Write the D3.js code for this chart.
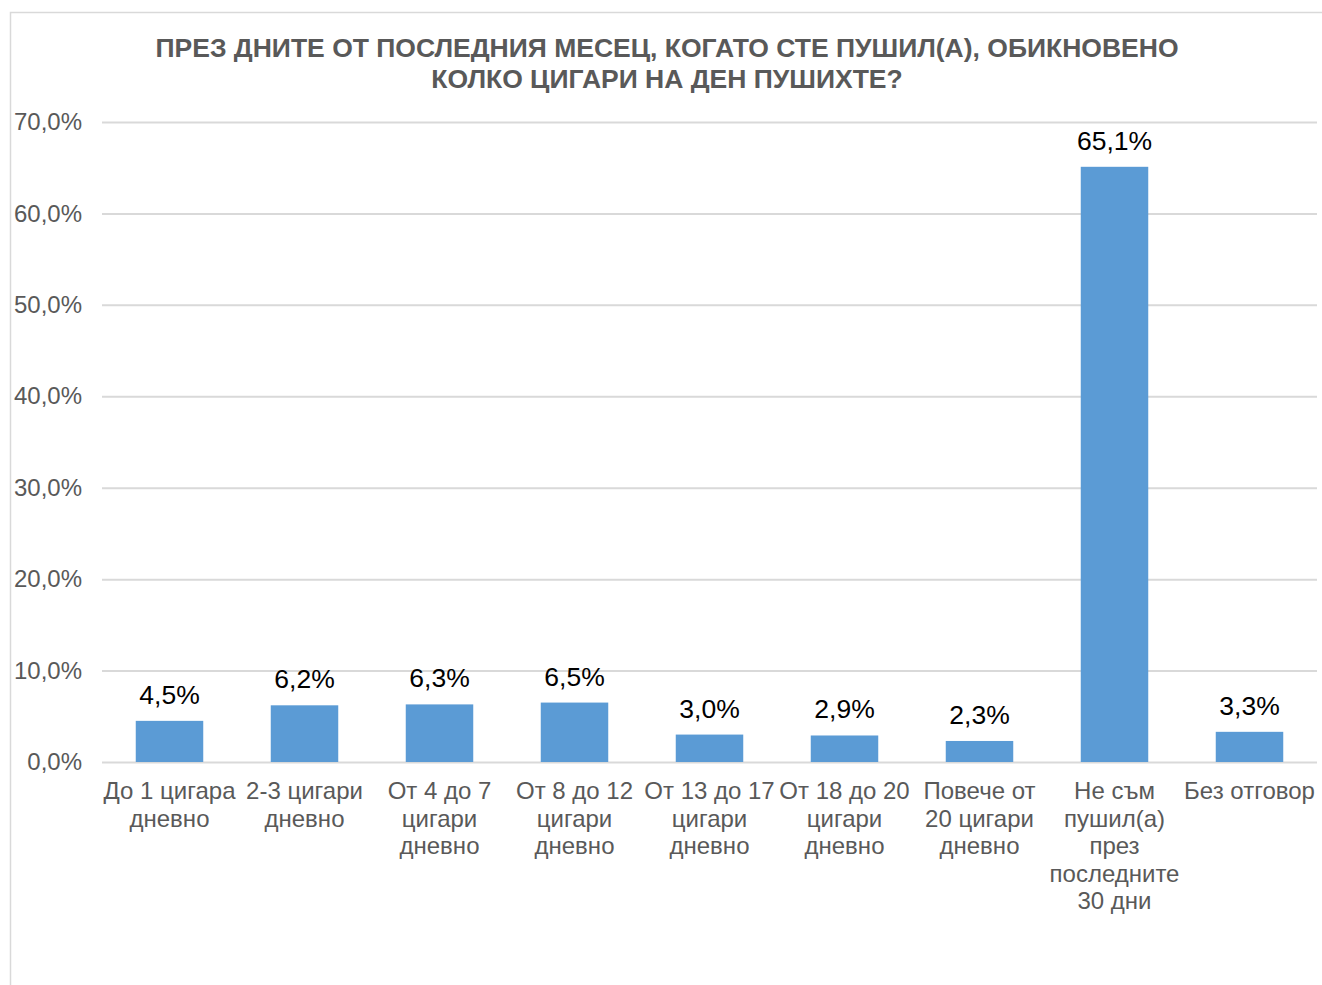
<!DOCTYPE html>
<html>
<head>
<meta charset="utf-8">
<script src="https://cdn.jsdelivr.net/npm/d3@7"></script>
<style>
  body { margin: 0; background: #fff; }
  svg { display: block; }
</style>
</head>
<body>
<div class="chart"></div>
<script>
// data
const categories = [
  ["До 1 цигара", "дневно"],
  ["2-3 цигари", "дневно"],
  ["От 4 до 7", "цигари", "дневно"],
  ["От 8 до 12", "цигари", "дневно"],
  ["От 13 до 17", "цигари", "дневно"],
  ["От 18 до 20", "цигари", "дневно"],
  ["Повече от", "20 цигари", "дневно"],
  ["Не съм", "пушил(а)", "през", "последните", "30 дни"],
  ["Без отговор"]
];
const values = [4.5, 6.2, 6.3, 6.5, 3.0, 2.9, 2.3, 65.1, 3.3];
const yTicks = [0, 10, 20, 30, 40, 50, 60, 70];
const titleLines = [
  "ПРЕЗ ДНИТЕ ОТ ПОСЛЕДНИЯ МЕСЕЦ, КОГАТО СТЕ ПУШИЛ(А), ОБИКНОВЕНО",
  "КОЛКО ЦИГАРИ НА ДЕН ПУШИХТЕ?"
];

const W = 1322, H = 985;
const fmt = v => v.toFixed(1).replace(".", ",") + "%";

const svg = d3.select(".chart").append("svg")
  .attr("width", W)
  .attr("height", H)
  .style("font-family", "'Liberation Sans', Arial, sans-serif");

// chart border (runs off the right and bottom edges)
svg.append("rect")
  .attr("x", 10.5).attr("y", 12.5)
  .attr("width", W + 20).attr("height", H + 20)
  .attr("fill", "none")
  .attr("stroke", "#d9d9d9")
  .attr("stroke-width", 1.5);

svg.append("text")
  .attr("text-anchor", "middle")
  .attr("font-size", "26.5px")
  .attr("font-weight", "bold")
  .attr("fill", "#595959")
  .selectAll("tspan")
  .data(titleLines)
  .enter()
  .append("tspan")
  .attr("x", 667)
  .attr("y", (d, i) => 57 + i * 31)
  .text(d => d);

const x = d3.scaleBand()
  .domain(d3.range(values.length))
  .range([102, 1317])
  .paddingInner(0.5)
  .paddingOuter(0.25);

const y = d3.scaleLinear()
  .domain([0, 70])
  .range([762, 122]);

// gridlines + y labels
const yAxis = svg.append("g")
  .attr("transform", "translate(102,0)")
  .call(d3.axisLeft(y).tickValues(yTicks).tickSize(-1215).tickFormat(fmt).tickPadding(20));
yAxis.select(".domain").remove();
yAxis.selectAll(".tick line")
  .attr("stroke", "#d9d9d9")
  .attr("stroke-width", 2);
yAxis.selectAll(".tick text")
  .attr("font-size", "24px")
  .attr("font-family", "'Liberation Sans', Arial, sans-serif")
  .attr("fill", "#595959");

// bars
svg.selectAll("rect.bar")
  .data(values)
  .enter()
  .append("rect")
  .attr("class", "bar")
  .attr("x", (d, i) => x(i))
  .attr("y", d => y(d))
  .attr("width", x.bandwidth())
  .attr("height", d => y(0) - y(d))
  .attr("fill", "#5b9bd5");

// data labels
svg.selectAll("text.val")
  .data(values)
  .enter()
  .append("text")
  .attr("class", "val")
  .attr("x", (d, i) => x(i) + x.bandwidth() / 2)
  .attr("y", d => y(d) - 17)
  .attr("text-anchor", "middle")
  .attr("font-size", "26.5px")
  .attr("fill", "#000")
  .text(d => fmt(d));

// category labels
const cat = svg.selectAll("text.cat")
  .data(categories)
  .enter()
  .append("text")
  .attr("class", "cat")
  .attr("text-anchor", "middle")
  .attr("font-size", "24px")
  .attr("fill", "#595959");
cat.selectAll("tspan")
  .data((d, i) => d.map(line => ({ line, i })))
  .enter()
  .append("tspan")
  .attr("x", d => x(d.i) + x.bandwidth() / 2)
  .attr("y", (d, j) => 799 + j * 27.5)
  .text(d => d.line);
</script>
</body>
</html>
